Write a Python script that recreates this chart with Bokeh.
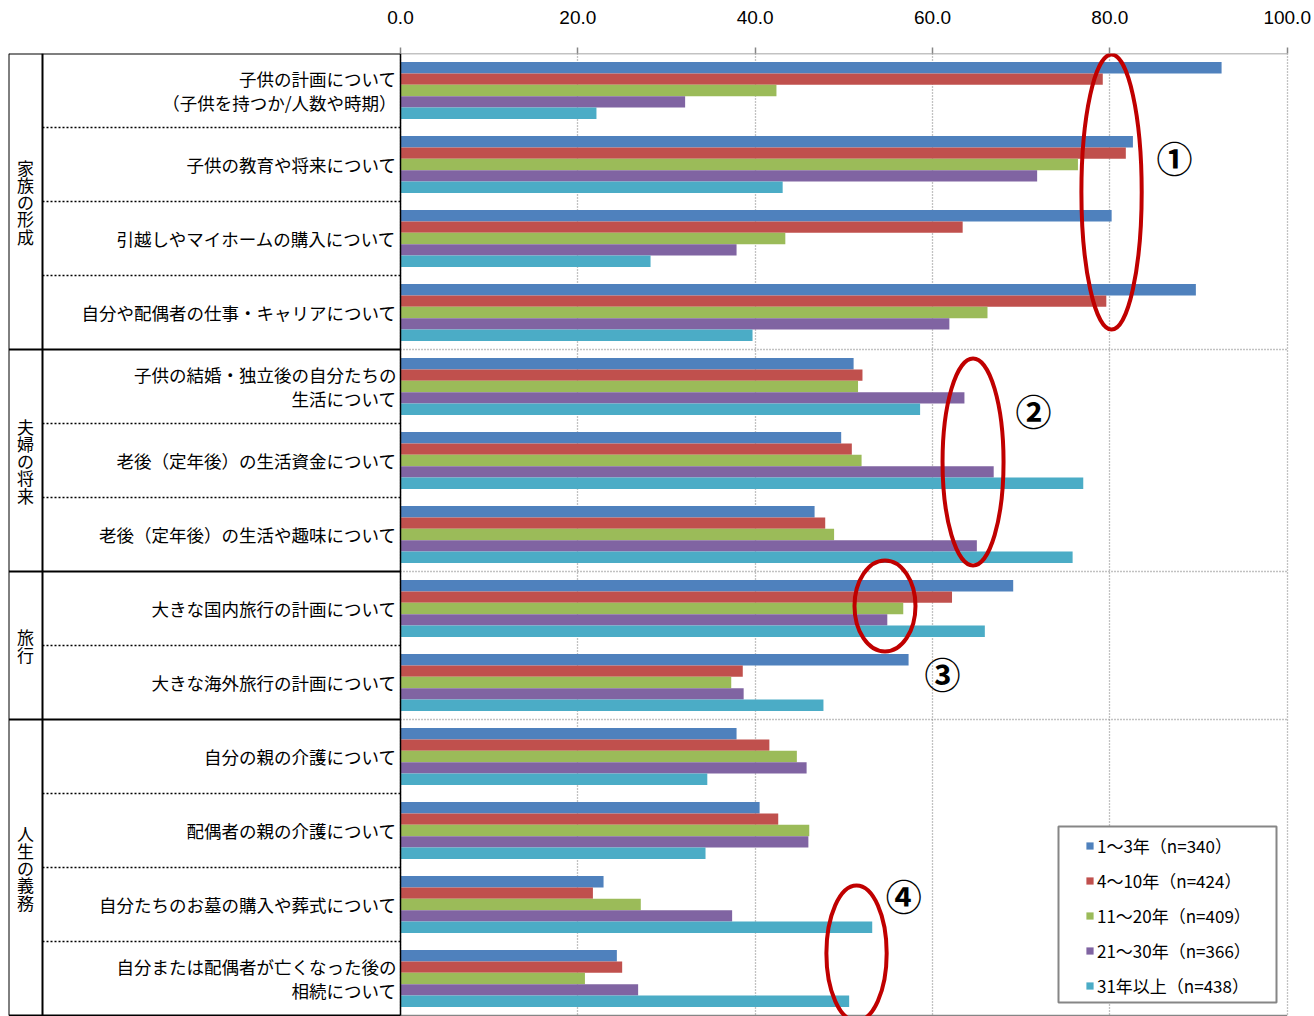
from bokeh.plotting import figure
from bokeh.models import Range1d, FixedTicker, NumeralTickFormatter, Legend, LegendItem, ColumnDataSource
from bokeh.core.properties import value
from bokeh.embed import file_html
from bokeh.resources import INLINE

# ---------------- data ----------------
categories = [
    "子供の計画について\n（子供を持つか/人数や時期）",
    "子供の教育や将来について",
    "引越しやマイホームの購入について",
    "自分や配偶者の仕事・キャリアについて",
    "子供の結婚・独立後の自分たちの\n生活について",
    "老後（定年後）の生活資金について",
    "老後（定年後）の生活や趣味について",
    "大きな国内旅行の計画について",
    "大きな海外旅行の計画について",
    "自分の親の介護について",
    "配偶者の親の介護について",
    "自分たちのお墓の購入や葬式について",
    "自分または配偶者が亡くなった後の\n相続について",
]
groups = ["家族の形成", "夫婦の将来", "旅行", "人生の義務"]
group_sizes = [4, 3, 2, 4]

series_names = ["1～3年（n=340）", "4～10年（n=424）", "11～20年（n=409）",
                "21～30年（n=366）", "31年以上（n=438）"]
y1_3 = [92.6, 82.6, 80.2, 89.7, 51.1, 49.7, 46.7, 69.1, 57.3, 37.9, 40.5, 22.9, 24.4]
y4_10 = [79.2, 81.8, 63.4, 79.6, 52.1, 50.9, 47.9, 62.2, 38.6, 41.6, 42.6, 21.7, 25.0]
y11_20 = [42.4, 76.4, 43.4, 66.2, 51.6, 52.0, 48.9, 56.7, 37.3, 44.7, 46.1, 27.1, 20.8]
y21_30 = [32.1, 71.8, 37.9, 61.9, 63.6, 66.9, 65.0, 54.9, 38.7, 45.8, 46.0, 37.4, 26.8]
y31_up = [22.1, 43.1, 28.2, 39.7, 58.6, 77.0, 75.8, 65.9, 47.7, 34.6, 34.4, 53.2, 50.6]
series_values = [y1_3, y4_10, y11_20, y21_30, y31_up]

x_ticks = [0, 20, 40, 60, 80, 100]
marks = ["①", "②", "③", "④"]

# ---------------- layout / style ----------------
colors = ["#4F81BD", "#C0504D", "#9BBB59", "#8064A2", "#4BACC6"]
JP = "Noto Sans CJK JP"
PX = 8.867          # pixels per value unit
ROW = 74.0          # pixels per category row
W, H = 1314, 1016
TOP = 53            # y of first row top
n = len(categories)

# annotation ellipses (value units, row units)
ell_x = [80.19, 64.57, 54.64, 51.43]
ell_y = [1.872, 5.520, 7.466, 12.158]
ell_w = [6.80, 6.88, 6.88, 6.80]
ell_h = [3.716, 2.797, 1.230, 1.830]
mark_x = [87.28, 71.40, 61.13, 56.76]
mark_y = [1.405, 4.824, 8.378, 11.378]

xr = Range1d((0 - 400) / PX, (W - 400) / PX)
yr = Range1d((H - TOP) / ROW, 0)

p = figure(width=W, height=H, x_range=xr, y_range=yr, output_backend="svg",
           toolbar_location=None, x_axis_location="above", y_axis_location=None,
           min_border_left=0, min_border_right=0, min_border_bottom=0, min_border_top=TOP,
           outline_line_color=None, background_fill_color="white", border_fill_color="white")

ticker = FixedTicker(ticks=x_ticks, minor_ticks=[])
ax = p.xaxis[0]
ax.ticker = ticker
ax.formatter = NumeralTickFormatter(format="0.0")
ax.axis_line_color = None
ax.major_tick_line_color = "#868686"
ax.major_tick_line_width = 1.5
ax.major_tick_out = 6
ax.major_tick_in = 0
ax.minor_tick_line_color = None
ax.major_label_text_font = "Liberation Sans"
ax.major_label_text_font_size = "19px"
ax.major_label_text_color = "black"
ax.major_label_standoff = 24

p.xgrid[0].ticker = ticker
p.xgrid.grid_line_color = "#868686"
p.xgrid.grid_line_dash = "1 2"
p.xgrid.grid_line_width = 1.3
p.ygrid.visible = False

XL = (8.5 - 400) / PX
XG = (42 - 400) / PX
XC = (25 - 400) / PX

# group boundaries
bounds = [0]
for s in group_sizes:
    bounds.append(bounds[-1] + s)
inner = [i for i in range(1, n) if i not in bounds]

# plot-area lines
p.segment(x0=[0] * 3, x1=[100] * 3, y0=bounds[1:-1], y1=bounds[1:-1],
          line_color="#868686", line_width=1.3, line_dash="1 2")
p.segment(x0=[0, 0], x1=[100, 100], y0=[0, n], y1=[0, n], line_color="#868686", line_width=1.5)

# bars
offs = [(k - 2) * 0.154 for k in range(5)]
renderers = []
for k, vals in enumerate(series_values):
    src = ColumnDataSource(dict(y=[i + 0.5 + offs[k] for i in range(n)], right=vals))
    r = p.hbar(y="y", left=0, right="right", height=0.154, source=src,
               fill_color=colors[k], line_color=None)
    renderers.append(r)

# table lines (label area)
p.segment(x0=[XG] * len(inner), x1=[0] * len(inner), y0=inner, y1=inner,
          line_color="black", line_width=1.5, line_dash="2 2")
p.segment(x0=[XL] * len(bounds), x1=[0] * len(bounds), y0=bounds, y1=bounds,
          line_color="black", line_width=2)
p.segment(x0=[XL], x1=[XL], y0=[0], y1=[n], line_color="black", line_width=1)
p.segment(x0=[XG], x1=[XG], y0=[0], y1=[n], line_color="black", line_width=2)
p.segment(x0=[0], x1=[0], y0=[0], y1=[n], line_color="black", line_width=1.5)

# category labels
p.text(x=[0] * n, y=[i + 0.5 for i in range(n)], text=categories, x_offset=-4,
       text_align="right", text_baseline="middle", text_font=value(JP),
       text_font_size="17.5px", text_line_height=0.93, text_color="black")

# group labels (vertical)
gy = [(bounds[i] + bounds[i + 1]) / 2 for i in range(len(groups))]
p.text(x=[XC] * len(groups), y=gy, text=["\n".join(g) for g in groups],
       text_align="center", text_baseline="middle", text_font=value(JP),
       text_font_size="17px", text_line_height=0.69, text_color="black")

# annotations
p.ellipse(x=ell_x, y=ell_y, width=ell_w, height=ell_h, fill_color=None,
          line_color="#C00000", line_width=4)
p.text(x=mark_x, y=mark_y, text=marks, text_align="center", text_baseline="middle",
       text_font=value(JP), text_font_size="36px", text_font_style="bold", text_color="black")

# legend box
p.quad(left=[(1058 - 400) / PX], right=[(1276 - 400) / PX],
       top=[(826 - TOP) / ROW], bottom=[(1002 - TOP) / ROW],
       fill_color="white", line_color="#868686", line_width=2)

legend = Legend(items=[LegendItem(label=series_names[k], renderers=[renderers[k]]) for k in range(5)],
                location=(1085, 18), orientation="vertical",
                background_fill_alpha=0, border_line_color=None, padding=0, margin=0,
                spacing=10, label_height=25, glyph_width=9, glyph_height=9, label_standoff=3,
                label_text_font=JP, label_text_font_size="17px", label_text_color="black")
p.add_layout(legend)

open("out.html", "w").write(file_html(p, INLINE))
